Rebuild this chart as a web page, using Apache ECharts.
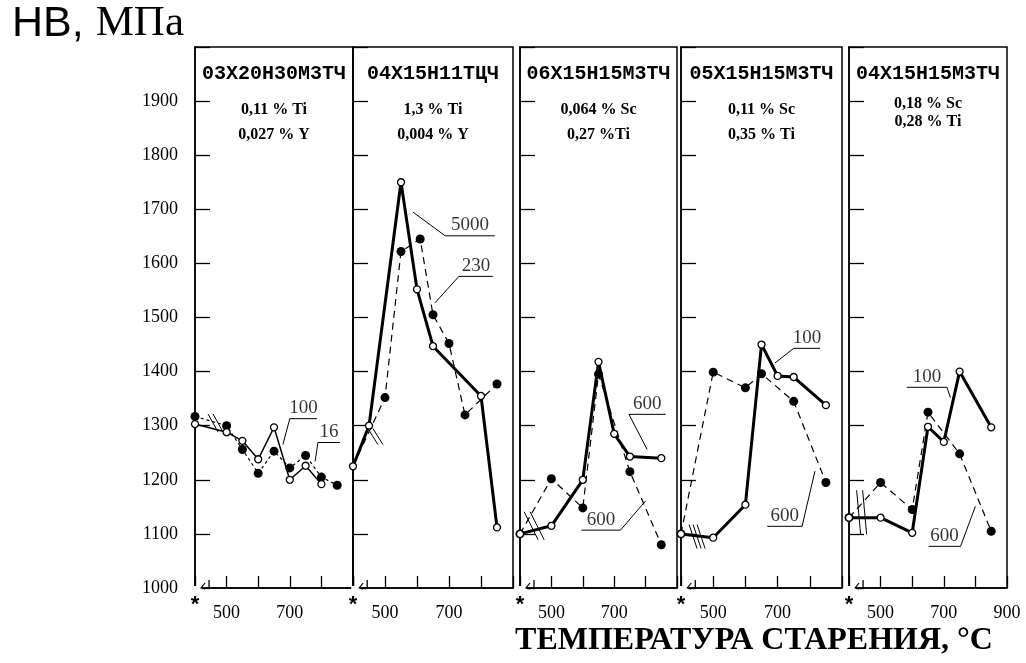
<!DOCTYPE html>
<html><head><meta charset="utf-8">
<script src="https://cdn.jsdelivr.net/npm/echarts@6/dist/echarts.min.js"></script>
<style>html,body{margin:0;padding:0;background:#fff}#c{width:1026px;height:663px}</style>
</head><body><div id="c"></div>
<script>
// ---------- DATA ----------
const steels = ['03Х20Н30М3ТЧ', '04Х15Н11ТЦЧ', '06Х15Н15М3ТЧ', '05Х15Н15М3ТЧ', '04Х15Н15М3ТЧ'];
const compLine1 = ['0,11 % Ti', '1,3 % Ti', '0,064 % Sc', '0,11 % Sc', '0,18 % Sc'];
const compLine2 = ['0,027 % Y', '0,004 % Y', '0,27 %Ti', '0,35 % Ti', '0,28 % Ti'];
const yAxisTitle = ['HB,', 'МПа'];
const xAxisTitle = 'ТЕМПЕРАТУРА СТАРЕНИЯ, °С';
const quenchedMark = '*';          // initial (quenched) state, drawn at T = 400
const xTickLabels = [[500, 700], [500, 700], [500, 700], [500, 700], [500, 700, 900]];

// aging temperature (°C) and hardness HB (MPa); open points / solid line
const openT = [
  [400, 500, 550, 600, 650, 700, 750, 800],
  [400, 450, 550, 600, 650, 800, 850],
  [400, 500, 600, 650, 700, 750, 850],
  [400, 500, 600, 650, 700, 750, 850],
  [400, 500, 600, 650, 700, 750, 850]
];
const openHB = [
  [1303, 1288, 1272, 1238, 1297, 1200, 1226, 1192],
  [1225, 1300, 1750, 1552, 1447, 1355, 1112],
  [1100, 1115, 1200, 1418, 1285, 1243, 1240],
  [1100, 1093, 1154, 1450, 1392, 1390, 1338],
  [1130, 1130, 1102, 1298, 1270, 1400, 1297]
];
// filled points / dashed line
const filledT = [
  [400, 500, 550, 600, 650, 700, 750, 800, 850],
  [400, 500, 550, 610, 650, 700, 750, 850],
  [400, 500, 600, 650, 750, 850],
  [400, 500, 600, 650, 750, 850],
  [400, 500, 600, 650, 750, 850]
];
const filledHB = [
  [1317, 1300, 1256, 1212, 1253, 1222, 1245, 1205, 1190],
  [1225, 1352, 1622, 1645, 1505, 1452, 1320, 1377],
  [1100, 1202, 1148, 1395, 1215, 1080],
  [1100, 1399, 1370, 1396, 1345, 1195],
  [1130, 1195, 1145, 1325, 1248, 1105]
];
// curve labels (aging time, h) and their leader lines in data units
const openLabel = ['100', '5000', '600', '100', '100'];
const filledLabel = ['16', '230', '600', '600', '600'];
const openLeader = [
  [[678, 1265], [700, 1313], [786, 1313]],
  [[587, 1695], [688, 1651], [843, 1651]],
  [[805, 1256], [747, 1321], [864, 1321]],
  [[692, 1416], [750, 1443], [832, 1443]],
  [[721, 1352], [710, 1371], [583, 1371]]
];
const filledLeader = [
  [[780, 1234], [789, 1269], [859, 1269]],
  [[656, 1527], [731, 1576], [837, 1576]],
  [[800, 1161], [720, 1107], [596, 1107]],
  [[816, 1216], [776, 1114], [668, 1114]],
  [[800, 1151], [753, 1077], [652, 1077]]
];
// scale-break marks on the curves (T, HB) and on the temperature axis (T)
const curveBreakT = [465, 470, 445, 450, 440];
const curveBreakHB = [1305, 1280, 1115, 1095, 1140];
const axisBreakT = 435;

// ---------- LAYOUT / STYLE ----------
const gridLeft = [195, 353, 520, 681, 849];
const gridWidth = [158, 160, 157, 161, 158];
const gridTop = 47, gridHeight = 541;
const openWidth = [1.5, 3, 3, 3, 3];
const breakStyle = [
  {n: 2, dx: 5, dy: 9, gap: 5}, {n: 2, dx: 5, dy: 8, gap: 5}, {n: 2, dx: 7, dy: 14, gap: 6},
  {n: 3, dx: 4, dy: 12, gap: 4}, {n: 2, dx: 2, dy: 22, gap: 6}
];
const SERIF = '"Liberation Serif", "DejaVu Serif", serif';
const MONO = '"Liberation Mono", "DejaVu Sans Mono", monospace';

const grids = [], xAxes = [], yAxes = [], series = [], graphics = [];

for (let i = 0; i < 5; i++) {
  grids.push({left: gridLeft[i], top: gridTop, width: gridWidth[i], height: gridHeight,
    show: true, borderColor: '#000', borderWidth: 1.5, containLabel: false});
  const shown = xTickLabels[i];
  xAxes.push({type: 'value', gridIndex: i, min: 400, max: 900, interval: 100,
    axisLine: {show: true, lineStyle: {color: '#000', width: 1.5}},
    axisTick: {show: true, inside: true, length: 12, lineStyle: {color: '#000', width: 1.3}},
    splitLine: {show: false},
    axisLabel: {show: true, showMinLabel: true, showMaxLabel: true, margin: 6,
      formatter: v => v === 400 ? '{s|' + quenchedMark + '}' : (shown.indexOf(v) >= 0 ? '{n|' + v + '}' : ''),
      rich: {
        s: {fontFamily: '"Liberation Sans", sans-serif', fontWeight: 'bold', fontSize: 22, color: '#000', lineHeight: 22},
        n: {fontFamily: SERIF, fontSize: 18, color: '#000', padding: [10, 0, 0, 0]}
      }}
  });
  yAxes.push({type: 'value', gridIndex: i, min: 1000, max: 2000, interval: 100,
    axisLine: {show: true, lineStyle: {color: '#000', width: 1.5}},
    axisTick: {show: true, inside: true, length: 15, lineStyle: {color: '#000', width: 1.3}},
    splitLine: {show: false},
    axisLabel: {show: i === 0, margin: 17, fontFamily: SERIF, fontSize: 18, color: '#000',
      formatter: v => v === 2000 ? '' : String(v)}
  });

  const openData = openT[i].map((t, k) => [t, openHB[i][k]]);
  const filledData = filledT[i].map((t, k) => {
    const item = {value: [t, filledHB[i][k]]};
    if (i === 1 && k === 0) item.symbol = 'none';
    return item;
  });
  series.push({type: 'line', xAxisIndex: i, yAxisIndex: i, data: filledData, z: 3,
    symbol: 'circle', symbolSize: 9, itemStyle: {color: '#000'},
    lineStyle: {color: '#000', width: 1.2, type: i === 0 ? [3, 3] : [7, 5]}, silent: true});
  series.push({type: 'line', xAxisIndex: i, yAxisIndex: i, data: openData, z: 4,
    symbol: 'circle', symbolSize: 7, itemStyle: {color: '#fff', borderColor: '#000', borderWidth: 1.3},
    lineStyle: {color: '#000', width: openWidth[i]}, silent: true});

  [[openLeader[i], openLabel[i]], [filledLeader[i], filledLabel[i]]].forEach(([pts, txt]) => {
    series.push({type: 'line', xAxisIndex: i, yAxisIndex: i, data: pts, symbol: 'none', z: 2,
      lineStyle: {color: '#000', width: 1}, silent: true});
    series.push({type: 'scatter', xAxisIndex: i, yAxisIndex: i, symbolSize: 0, silent: true,
      data: [[(pts[1][0] + pts[2][0]) / 2, pts[1][1]]],
      label: {show: true, position: 'top', distance: 1, formatter: txt,
        fontFamily: SERIF, fontSize: 19, color: '#000'}});
  });

  // scale-break marks: slashes across the curves and a notch on the temperature axis
  const bs = breakStyle[i];
  series.push({type: 'custom', xAxisIndex: i, yAxisIndex: i, silent: true, z: 6,
    data: [[curveBreakT[i], curveBreakHB[i]]],
    renderItem: (params, api) => {
      const c = api.coord([api.value(0), api.value(1)]);
      const children = [];
      for (let k = 0; k < bs.n; k++) {
        const ox = c[0] + (k - (bs.n - 1) / 2) * bs.gap;
        children.push({type: 'line', shape: {x1: ox - bs.dx, y1: c[1] - bs.dy, x2: ox + bs.dx, y2: c[1] + bs.dy},
          style: {stroke: '#000', lineWidth: 1}});
      }
      return {type: 'group', children: children};
    }});
  series.push({type: 'custom', xAxisIndex: i, yAxisIndex: i, silent: true, z: 6,
    data: [[axisBreakT, 1000]],
    renderItem: (params, api) => {
      const c = api.coord([api.value(0), api.value(1)]);
      return {type: 'group', children: [
        {type: 'rect', shape: {x: c[0] - 13, y: c[1] - 2, width: 9, height: 4}, style: {fill: '#fff'}},
        {type: 'polyline', shape: {points: [[c[0] - 1, c[1] - 5], [c[0] - 5, c[1]], [c[0] - 1, c[1] + 1]]},
          style: {stroke: '#000', lineWidth: 1.2, fill: null}},
        {type: 'line', shape: {x1: c[0] + 3, y1: c[1] - 8, x2: c[0] + 3, y2: c[1] + 1},
          style: {stroke: '#000', lineWidth: 1.3}}
      ]};
    }});

  const cx = gridLeft[i] + gridWidth[i] / 2;
  const l1 = i === 4 ? 104 : 110, l2 = i === 4 ? 122 : 135;
  graphics.push({type: 'text', x: cx, y: 74, style: {text: steels[i], font: 'bold 20px ' + MONO,
    fill: '#000', textAlign: 'center', textVerticalAlign: 'middle'}});
  graphics.push({type: 'text', x: cx, y: l1, style: {text: compLine1[i], font: 'bold 16px ' + SERIF,
    fill: '#000', textAlign: 'center', textVerticalAlign: 'middle'}});
  graphics.push({type: 'text', x: cx, y: l2, style: {text: compLine2[i], font: 'bold 16px ' + SERIF,
    fill: '#000', textAlign: 'center', textVerticalAlign: 'middle'}});
}

graphics.push({type: 'text', x: 12, y: 24, style: {
  text: '{a|' + yAxisTitle[0] + ' }{b|' + yAxisTitle[1] + '}',
  rich: {a: {font: '43px "Liberation Sans", Arial, sans-serif', fill: '#000'},
         b: {font: '43px ' + SERIF, fill: '#000'}},
  textAlign: 'left', textVerticalAlign: 'middle'}});
graphics.push({type: 'text', x: 754, y: 641, style: {text: xAxisTitle,
  font: 'bold 32px ' + SERIF, fill: '#000', textAlign: 'center', textVerticalAlign: 'middle'}});

const chart = echarts.init(document.getElementById('c'), null, {renderer: 'canvas'});
chart.setOption({animation: false, backgroundColor: '#fff',
  grid: grids, xAxis: xAxes, yAxis: yAxes, series: series, graphic: graphics});
</script></body></html>
